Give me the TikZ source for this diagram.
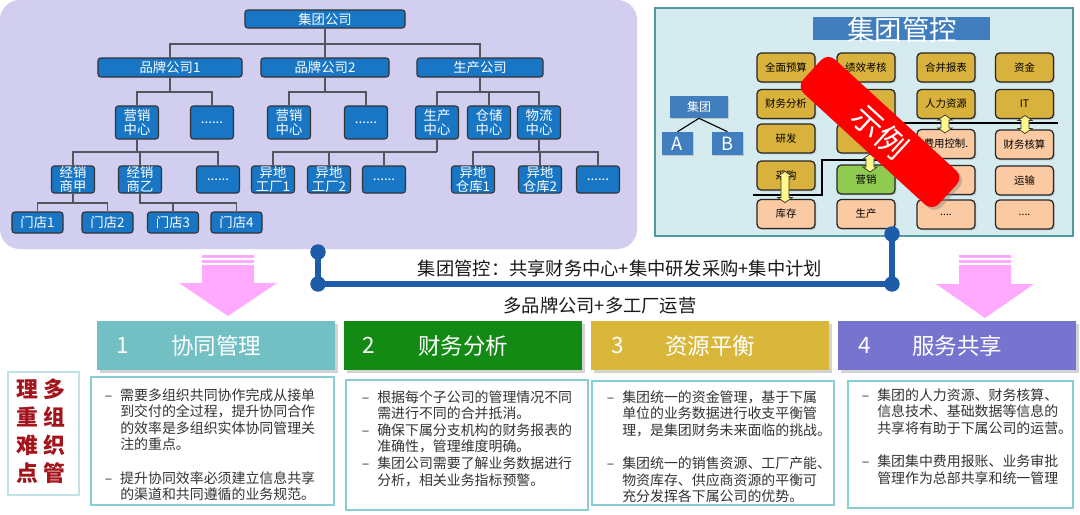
\documentclass[tikz,border=0pt]{standalone}
\usepackage{fontspec}
\setmainfont{Noto Sans CJK SC}
\usetikzlibrary{shadows,shapes.arrows}

\definecolor{panelpurple}{RGB}{210,206,240}
\definecolor{orgblue}{RGB}{24,118,196}
\definecolor{orgline}{RGB}{85,85,95}
\definecolor{panelcyan}{RGB}{214,235,239}
\definecolor{paneledge}{RGB}{78,155,165}
\definecolor{titleblue}{RGB}{64,126,190}
\definecolor{boxgold}{RGB}{216,178,60}
\definecolor{boxpeach}{RGB}{251,202,162}
\definecolor{boxgreen}{RGB}{142,203,80}
\definecolor{busblue}{RGB}{28,92,168}
\definecolor{arrowpink}{RGB}{255,170,255}
\definecolor{headteal}{RGB}{114,192,196}
\definecolor{headgreen}{RGB}{18,138,20}
\definecolor{headgold}{RGB}{216,183,59}
\definecolor{headpurple}{RGB}{118,116,206}
\definecolor{cardedge}{RGB}{135,205,210}
\definecolor{labeledge}{RGB}{190,226,229}
\definecolor{labelred}{RGB}{163,20,28}

\newcommand{\dashln}[1]{\makebox[11pt][l]{–}#1}
\newcommand{\contln}[1]{\hspace*{11pt}#1}

\begin{document}
\begin{tikzpicture}[x=0.025cm,y=-0.025cm,
    org/.style={draw=black!80,fill=orgblue,text=white,rounded corners=2pt,
      line width=0.8pt,inner sep=0pt,align=center,
      font=\fontsize{9.5}{10.5}\selectfont},
    midbox/.style={org,minimum width=1.075cm,minimum height=0.825cm},
    lowbox/.style={org,minimum width=1.075cm,minimum height=0.675cm},
    shopbox/.style={org,minimum width=1.275cm,minimum height=0.525cm},
    link/.style={draw=orgline,line width=0.9pt},
    cell/.style={draw=black!85,line width=0.9pt,rounded corners=3pt,
      minimum width=1.45cm,minimum height=0.725cm,inner sep=0pt,
      font=\fontsize{7.4}{8}\selectfont,
      drop shadow={shadow xshift=1pt,shadow yshift=-1pt,opacity=0.3}},
    goldcell/.style={cell,fill=boxgold},
    peachcell/.style={cell,fill=boxpeach},
    greencell/.style={cell,fill=boxgreen},
    bluebox/.style={fill=titleblue,text=white,inner sep=0pt,
      drop shadow={shadow xshift=1pt,shadow yshift=-1pt,opacity=0.3}},
    twoway/.style={double arrow,draw=black!80,fill=yellow!45,line width=0.5pt,
      rotate=90,inner sep=2.6pt,double arrow head extend=2.3pt,
      double arrow tip angle=110},
    blockhead/.style={minimum width=5.95cm,minimum height=1.225cm,inner sep=0pt,
      text=white,font=\fontsize{16}{16}\selectfont,
      drop shadow={shadow xshift=2pt,shadow yshift=-2pt,opacity=0.35}},
    headnum/.style={text=white,font=\fontsize{16}{16}\selectfont},
    card/.style={draw=cardedge,line width=1pt,fill=white,inner sep=0pt},
    cardtext/.style={anchor=north west,align=left,inner sep=0pt,text=black!80,
      font=\fontsize{9.9}{11.8}\selectfont}]
  \useasboundingbox (0,0) rectangle (1080,514);

  % panels
  \fill[panelpurple,rounded corners=14pt] (0,0) rectangle (637,249);
  \draw[paneledge,fill=panelcyan,line width=1pt] (655,8) rectangle (1073,236);

  % org chart
  \node[org,minimum width=4cm,minimum height=0.45cm] (jt) at (325,19) {集团公司};
  \node[org,minimum width=3.6cm,minimum height=0.475cm] (pp1) at (170,67.5) {品牌公司1};
  \node[org,minimum width=3.2cm,minimum height=0.475cm] (pp2) at (325,67.5) {品牌公司2};
  \node[org,minimum width=3.15cm,minimum height=0.475cm] (sc) at (480,67.5) {生产公司};

  \node[midbox] (yx1) at (137,122.5) {营销\\中心};
  \node[midbox] (yd1) at (212,122.5) {......};
  \node[midbox] (yx2) at (289,122.5) {营销\\中心};
  \node[midbox] (yd2) at (366,122.5) {......};
  \node[midbox] (sczx) at (437,122.5) {生产\\中心};
  \node[midbox] (cczx) at (489,122.5) {仓储\\中心};
  \node[midbox] (wlzx) at (539,122.5) {物流\\中心};

  \node[lowbox] (jxa) at (73,179.5) {经销\\商甲};
  \node[lowbox] (jxb) at (140,179.5) {经销\\商乙};
  \node[lowbox] (ld1) at (218,179.5) {......};
  \node[lowbox] (gc1) at (273,179.5) {异地\\工厂1};
  \node[lowbox] (gc2) at (329,179.5) {异地\\工厂2};
  \node[lowbox] (ld2) at (384,179.5) {......};
  \node[lowbox] (ck1) at (473,179.5) {异地\\仓库1};
  \node[lowbox] (ck2) at (540,179.5) {异地\\仓库2};
  \node[lowbox] (ld3) at (598,179.5) {......};

  \node[shopbox] (md1) at (37.5,222.5) {门店1};
  \node[shopbox] (md2) at (107.5,222.5) {门店2};
  \node[shopbox] (md3) at (173,222.5) {门店3};
  \node[shopbox] (md4) at (236.5,222.5) {门店4};

  % org links
  \coordinate (b1) at (325,44);
  \draw[link] (jt.south) -- (b1);
  \draw[link] (pp1.north) |- (b1) -| (sc.north);
  \draw[link] (pp2.north) -- (pp2.north |- b1);
  \coordinate (b2) at (170,92);
  \draw[link] (pp1.south) -- (b2);
  \draw[link] (yx1.north) |- (b2) -| (yd1.north);
  \coordinate (b3) at (325,92);
  \draw[link] (pp2.south) -- (b3);
  \draw[link] (yx2.north) |- (b3) -| (yd2.north);
  \coordinate (b4) at (480,92);
  \draw[link] (sc.south) -- (b4);
  \draw[link] (sczx.north) |- (b4) -| (wlzx.north);
  \draw[link] (cczx.north) -- (cczx.north |- b4);
  \coordinate (b5) at (137,152);
  \draw[link] (yx1.south) -- (b5);
  \draw[link] (jxa.north) |- (b5) -| (ld1.north);
  \draw[link] (jxb.north) -- (jxb.north |- b5);
  \coordinate (b6) at (437,152);
  \draw[link] (sczx.south) -- (b6);
  \draw[link] (gc1.north) |- (b6);
  \draw[link] (gc2.north) -- (gc2.north |- b6);
  \draw[link] (ld2.north) -- (ld2.north |- b6);
  \coordinate (b7) at (539,152);
  \draw[link] (wlzx.south) -- (b7);
  \draw[link] (ck1.north) |- (b7) -| (ld3.north);
  \draw[link] (ck2.north) -- (ck2.north |- b7);
  \coordinate (b8) at (73,203);
  \draw[link] (jxa.south) -- (b8);
  \draw[link] (md1.north) |- (b8) -| (md2.north);
  \coordinate (b9) at (140,203);
  \draw[link] (jxb.south) -- (b9) -| (md4.north);
  \draw[link] (md3.north) -- (md3.north |- b9);

  % group control panel
  \node[fill=titleblue,minimum width=4.425cm,minimum height=0.575cm,inner sep=0pt] (gcbox) at (901.5,28.5) {};
  \node[text=white,font=\fontsize{19.5}{20}\selectfont] (gctitle) at (902,30) {集团管控};
  \node[bluebox,minimum width=1.45cm,minimum height=0.55cm,font=\fontsize{8.5}{9}\selectfont] (grp) at (699,107) {集团};
  \node[bluebox,minimum width=0.775cm,minimum height=0.575cm,font=\fontsize{13}{13}\selectfont] (ga) at (677.5,143.5) {A};
  \node[bluebox,minimum width=0.775cm,minimum height=0.575cm,font=\fontsize{13}{13}\selectfont] (gb) at (727.5,143.5) {B};
  \draw[line width=0.8pt] (grp.south) -- (ga.north);
  \draw[line width=0.8pt] (grp.south) -- (gb.north);

  \coordinate (r1a) at (880,123);
  \coordinate (r1b) at (1058,123);
  \draw[line width=1.2pt] (r1a) -- (r1b);
  \coordinate (r2a) at (753,195);
  \coordinate (r2b) at (900,160);
  \draw[line width=1.2pt] (r2a) -- (822,195) -- (822,160) -- (r2b);

  \node[goldcell] (qmys) at (786,67.5) {全面预算};
  \node[goldcell] (jxkh) at (866,67.5) {绩效考核};
  \node[goldcell] (hbbb) at (946,67.5) {合并报表};
  \node[goldcell] (zj) at (1024.5,67.5) {资金};
  \node[goldcell] (cwfx) at (786,104) {财务分析};
  \node[goldcell] (c22) at (866,104) {};
  \node[goldcell] (rlzy) at (946,104) {人力资源};
  \node[goldcell] (it) at (1024.5,104) {IT};
  \node[goldcell] (yf) at (786,138.5) {研发};
  \node[goldcell] (c32) at (866,138.5) {};
  \node[peachcell] (fykz) at (946,144) {费用控制.};
  \node[peachcell] (cwhs) at (1024.5,144.5) {财务核算};
  \node[goldcell] (cg) at (786,175.5) {采购};
  \node[greencell] (yx) at (866,179.5) {营销};
  \node[peachcell] (c43) at (946,180) {};
  \node[peachcell] (ys) at (1024.5,180.5) {运输};
  \node[peachcell] (kc) at (786,214) {库存};
  \node[peachcell] (scn) at (866,214) {生产};
  \node[peachcell] (dt1) at (946,214.5) {....};
  \node[peachcell] (dt2) at (1024.5,214.5) {....};

  \node[twoway,minimum height=0.45cm] (sw1) at (945,124) {};
  \node[twoway,minimum height=0.45cm] (sw2) at (1025,124.5) {};
  \node[twoway,minimum height=0.78cm] (sw3) at (785,187) {};
  \node[twoway,minimum height=0.45cm] (sw4) at (870,163) {};

  % sample banner
  \node[fill=red,text=white,rounded corners=7pt,rotate=-42.5,
    minimum width=4.6cm,minimum height=1.15cm,inner sep=0pt,
    font=\fontsize{22}{22}\selectfont,
    drop shadow={shadow xshift=2pt,shadow yshift=-2pt,opacity=0.4}] (demo) at (880,132) {示例};

  % middle connector
  \coordinate (lt) at (318,252);
  \coordinate (lb) at (318,284);
  \coordinate (rb) at (892,284);
  \coordinate (rt) at (892,234);
  \draw[busblue,line width=4.3pt,line join=round] (lt) -- (lb) -- (rb) -- (rt);
  \fill[busblue] (lt) circle[radius=5.5pt];
  \fill[busblue] (lb) circle[radius=5.5pt];
  \fill[busblue] (rb) circle[radius=5.5pt];
  \fill[busblue] (rt) circle[radius=5.5pt];
  \node[font=\fontsize{13}{13}\selectfont,text=black!90] (gctxt) at (620,269) {集团管控：共享财务中心+集中研发采购+集中计划};
  \node[font=\fontsize{13}{13}\selectfont,text=black!90] (dpp) at (600,306) {多品牌公司+多工厂运营};

  % pink arrows
  \fill[arrowpink] (202,255) rectangle (254,257.5);
  \fill[arrowpink] (202,260) rectangle (254,262.5);
  \fill[arrowpink] (202,265) -- (254,265) -- (254,283) -- (277,283) -- (228,316)
    -- (179,283) -- (202,283) -- cycle;
  \fill[arrowpink] (959,255) rectangle (1011,257.5);
  \fill[arrowpink] (959,260) rectangle (1011,262.5);
  \fill[arrowpink] (959,265) -- (1011,265) -- (1011,284) -- (1034,284) -- (985,318)
    -- (936,284) -- (959,284) -- cycle;

  % label box
  \node[draw=labeledge,line width=1pt,minimum width=1.775cm,minimum height=3.075cm] (lbl) at (43.5,433.5) {};
  \node[text=labelred,align=center,font=\bfseries\fontsize{15.5}{20}\selectfont] (lbltxt) at (41,431.5)
    {理\hspace{4pt}多\\重\hspace{4pt}组\\难\hspace{4pt}织\\点\hspace{4pt}管};

  % headers
  \node[blockhead,fill=headteal] (h1) at (216,345.5) {协同管理};
  \node[blockhead,fill=headgreen] (h2) at (463,345.5) {财务分析};
  \node[blockhead,fill=headgold] (h3) at (710,345.5) {资源平衡};
  \node[blockhead,fill=headpurple] (h4) at (957,345.5) {服务共享};
  \node[headnum] (n1) at (123,345) {1};
  \node[headnum] (n2) at (369,345) {2};
  \node[headnum] (n3) at (618,345) {3};
  \node[headnum] (n4) at (865,345) {4};

  % cards
  \node[card,minimum width=6.075cm,minimum height=3.2cm] (k1) at (212.5,441) {};
  \node[card,minimum width=6.05cm,minimum height=3.25cm] (k2) at (467,445) {};
  \node[card,minimum width=6.05cm,minimum height=3.1cm] (k3) at (713,443) {};
  \node[card,minimum width=5.625cm,minimum height=3.175cm] (k4) at (960.5,444.5) {};

  \node[cardtext] (t1) at (104.5,388) {\dashln{需要多组织共同协作完成从接单}\\
    \contln{到交付的全过程，提升协同合作}\\
    \contln{的效率是多组织实体协同管理关}\\
    \contln{注的重点。}\\[11.8pt]
    \dashln{提升协同效率必须建立信息共享}\\
    \contln{的渠道和共同遵循的业务规范。}};
  \node[cardtext] (t2) at (361.5,390) {\dashln{根据每个子公司的管理情况不同}\\
    \contln{需进行不同的合并抵消。}\\
    \dashln{确保下属分支机构的财务报表的}\\
    \contln{准确性，管理维度明确。}\\
    \dashln{集团公司需要了解业务数据进行}\\
    \contln{分析，相关业务指标预警。}};
  \node[cardtext] (t3) at (606.5,390) {\dashln{集团统一的资金管理，基于下属}\\
    \contln{单位的业务数据进行收支平衡管}\\
    \contln{理，是集团财务未来面临的挑战。}\\[11.8pt]
    \dashln{集团统一的销售资源、工厂产能、}\\
    \contln{物资库存、供应商资源的平衡可}\\
    \contln{充分发挥各下属公司的优势。}};
  \node[cardtext] (t4) at (861.5,388) {\dashln{集团的人力资源、财务核算、}\\
    \contln{信息技术、基础数据等信息的}\\
    \contln{共享将有助于下属公司的运营。}\\[11.8pt]
    \dashln{集团集中费用报账、业务审批}\\
    \contln{管理作为总部共享和统一管理}};
\end{tikzpicture}
\end{document}
